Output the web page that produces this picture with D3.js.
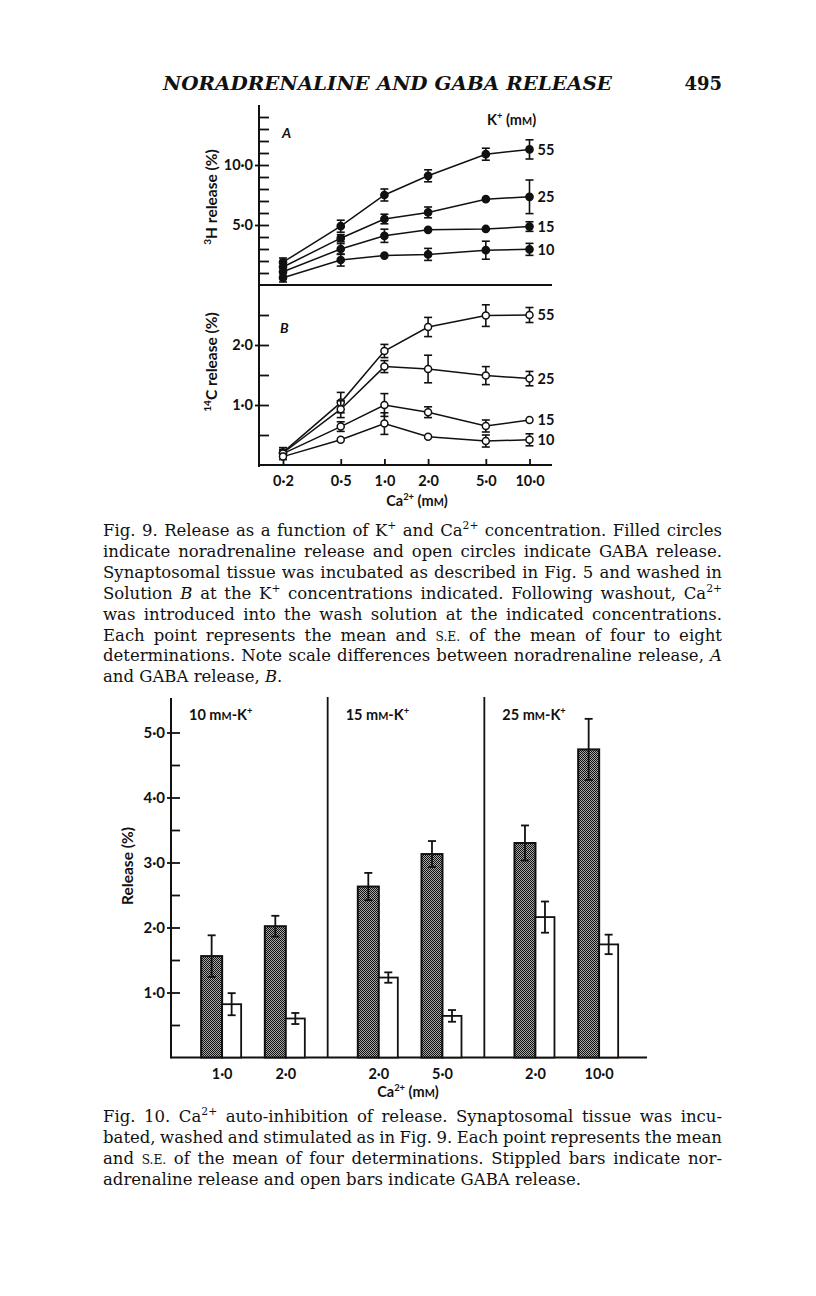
<!DOCTYPE html>
<html>
<head>
<meta charset="utf-8">
<script src="https://cdn.jsdelivr.net/npm/d3@7"></script>
<style>
  body { margin: 0; background: #fff; }
  svg { display: block; }
  .lab { font-family: Lato, "Open Sans", sans-serif; font-weight: 700; fill: #111; }
  .cap { font-family: "DejaVu Serif", serif; fill: #111; }
</style>
</head>
<body>
<div id="main"></div>
<script>
// ---- Fig. 9 data: release vs Ca2+ (mM), one series per K+ level ----
var caValues = [0.2, 0.5, 1.0, 2.0, 5.0, 10.0];
var kLevels = [55, 25, 15, 10];

// A: 3H (noradrenaline) release (%), filled circles
var na55 = [1.9, 4.9, 7.5, 9.1, 10.9, 11.3];
var na55Err = [0.35, 0.5, 0.5, 0.5, 0.5, 0.8];
var na25 = [1.5, 3.9, 5.5, 6.05, 7.15, 7.35];
var na25Err = [0.35, 0.3, 0.4, 0.45, 0, 1.4];
var na15 = [1.1, 3.0, 4.1, 4.6, 4.67, 4.87];
var na15Err = [0.35, 0.45, 0.55, 0, 0, 0.4];
var na10 = [0.6, 2.08, 2.45, 2.55, 2.9, 2.97];
var na10Err = [0.35, 0.5, 0, 0.5, 0.75, 0.5];

// B: 14C (GABA) release (%), open circles
var gaba55 = [0.21, 1.04, 1.9, 2.3, 2.49, 2.5];
var gaba55Err = [0.08, 0.17, 0.11, 0.16, 0.18, 0.125];
var gaba25 = [0.2, 0.93, 1.64, 1.6, 1.49, 1.44];
var gaba25Err = [0.06, 0.14, 0.1, 0.23, 0.15, 0.12];
var gaba15 = [0.19, 0.64, 1.0, 0.88, 0.65, 0.75];
var gaba15Err = [0.05, 0.08, 0.19, 0.09, 0.1, 0];
var gaba10 = [0.14, 0.42, 0.69, 0.47, 0.4, 0.42];
var gaba10Err = [0.05, 0, 0.18, 0, 0.1, 0.1];

// ---- Fig. 10 data: bars ----
var kGroups = ['10', '15', '25'];
var caBarLabels = ['1·0', '2·0', '2·0', '5·0', '2·0', '10·0'];
var naBar = [1.56, 2.02, 2.63, 3.13, 3.30, 4.74];
var naBarErr = [0.32, 0.16, 0.21, 0.20, 0.27, 0.47];
var gabaBar = [0.82, 0.60, 1.23, 0.64, 2.16, 1.74];
var gabaBarErr = [0.17, 0.085, 0.08, 0.09, 0.24, 0.15];

var cap9 = [
  "Fig. 9. Release as a function of K^{+} and Ca^{2+} concentration. Filled circles",
  "indicate noradrenaline release and open circles indicate GABA release.",
  "Synaptosomal tissue was incubated as described in Fig. 5 and washed in",
  "Solution _{B} at the K^{+} concentrations indicated. Following washout, Ca^{2+}",
  "was introduced into the wash solution at the indicated concentrations.",
  "Each point represents the mean and ~{S.E.} of the mean of four to eight",
  "determinations. Note scale differences between noradrenaline release, _{A}",
  "and GABA release, _{B}."
];
var cap10 = [
  "Fig. 10. Ca^{2+} auto-inhibition of release. Synaptosomal tissue was incu-",
  "bated, washed and stimulated as in Fig. 9. Each point represents the mean",
  "and ~{S.E.} of the mean of four determinations. Stippled bars indicate nor-",
  "adrenaline release and open bars indicate GABA release."
];

var W = 816, H = 1296;
var svg = d3.select('#main').append('svg').attr('width', W).attr('height', H);
svg.append('rect').attr('width', W).attr('height', H).attr('fill', '#fff');

var defs = svg.append('defs');
var pat = defs.append('pattern').attr('id', 'stip')
  .attr('patternUnits', 'userSpaceOnUse').attr('width', 2).attr('height', 2);
pat.append('rect').attr('width', 2).attr('height', 2).attr('fill', '#a8a8a8');
pat.append('rect').attr('width', 1).attr('height', 1).attr('fill', '#111');
pat.append('rect').attr('x', 1).attr('y', 1).attr('width', 1).attr('height', 1).attr('fill', '#111');

// tiny markup: ^{sup} _{italic} ~{small caps}
function rich(sel, str, fs) {
  var re = /([\^_~])\{([^}]*)\}/g, last = 0, m, shift = 0;
  function add(t, kind) {
    var ts = sel.append('tspan').text(t);
    if (kind === '^') {
      ts.attr('font-size', fs * 0.65).attr('dy', -fs * 0.4);
      shift = fs * 0.4;
    } else {
      if (shift) { ts.attr('dy', shift); shift = 0; }
      if (kind === '_') ts.attr('font-style', 'italic');
      if (kind === '~') ts.attr('font-size', fs * 0.74);
    }
  }
  while ((m = re.exec(str))) {
    if (m.index > last) add(str.slice(last, m.index), '');
    add(m[2], m[1]);
    last = re.lastIndex;
  }
  if (last < str.length) add(str.slice(last), '');
  return sel;
}

var fmt = function(d) { return d3.format('.1f')(d).replace('.', '·'); };

// ---- running head ----
svg.append('text').attr('class', 'cap')
  .attr('x', 163).attr('y', 90)
  .attr('font-size', 19).attr('font-style', 'italic').attr('font-weight', 'bold')
  .attr('textLength', 449).attr('lengthAdjust', 'spacingAndGlyphs')
  .text('NORADRENALINE AND GABA RELEASE');
svg.append('text').attr('class', 'cap')
  .attr('x', 722).attr('y', 90).attr('text-anchor', 'end')
  .attr('font-size', 18).attr('font-weight', 'bold')
  .text('495');

// ================= Fig. 9 =================
var x9 = d3.scaleLog().domain([0.2, 10]).range([283, 529.5]);
var yA = d3.scaleLinear().domain([0, 15]).range([285, 105]);
var yB = d3.scaleLinear().domain([0, 3]).range([465, 285]);
var frameL = 259, frameR = 552;

var f9 = svg.append('g');

function leftAxis(g, scale, values, isMajor, tickLen) {
  var ax = d3.axisLeft(scale).tickValues(values)
    .tickSizeInner(-tickLen).tickSizeOuter(0).tickPadding(5)
    .tickFormat(function(d) { return isMajor(d) ? fmt(d) : ''; });
  g.call(ax);
  g.select('.domain').remove();
  g.selectAll('.tick line').attr('stroke', '#111').attr('stroke-width', 1.8);
  g.selectAll('.tick').filter(isMajor).append('line')
    .attr('x1', -4).attr('x2', 0).attr('stroke', '#111').attr('stroke-width', 1.8);
  g.selectAll('.tick text').attr('class', 'lab').attr('font-size', 14.5)
    .attr('font-family', null).attr('x', -6);
}

var isInt = function(d) { return Math.abs(d - Math.round(d)) < 1e-6; };

leftAxis(f9.append('g').attr('transform', 'translate(' + frameL + ',0)'),
  yA, d3.range(1, 15), function(d) { return d % 5 === 0; }, 10);
leftAxis(f9.append('g').attr('transform', 'translate(' + frameL + ',0)'),
  yB, [0.5, 1, 1.5, 2, 2.5], isInt, 10);

var xg = f9.append('g').attr('transform', 'translate(0,' + yB(0) + ')');
xg.call(d3.axisBottom(x9).tickValues(caValues).tickSizeInner(-6).tickSizeOuter(0)
  .tickPadding(11).tickFormat(fmt));
xg.select('.domain').remove();
xg.selectAll('.tick line').attr('stroke', '#111').attr('stroke-width', 1.8);
xg.selectAll('.tick text').attr('class', 'lab').attr('font-size', 14.5).attr('font-family', null);

// frame lines
f9.append('line').attr('x1', frameL).attr('x2', frameL).attr('y1', yA(15)).attr('y2', yB(0) + 2)
  .attr('stroke', '#111').attr('stroke-width', 2);
f9.append('line').attr('x1', frameL).attr('x2', frameR).attr('y1', yA(0)).attr('y2', yA(0))
  .attr('stroke', '#111').attr('stroke-width', 2);
f9.append('line').attr('x1', frameL).attr('x2', frameR).attr('y1', yB(0)).attr('y2', yB(0))
  .attr('stroke', '#111').attr('stroke-width', 2);

function drawSeries(g, y, vals, errs, filled, label) {
  var pts = caValues.map(function(c, i) { return { c: c, v: vals[i], e: errs[i] }; });
  g.append('path').datum(pts)
    .attr('d', d3.line().x(function(d) { return x9(d.c); }).y(function(d) { return y(d.v); }))
    .attr('fill', 'none').attr('stroke', '#111').attr('stroke-width', 1.5);
  var eb = g.append('g').selectAll('g').data(pts.filter(function(d) { return d.e > 0; }))
    .enter().append('g').attr('stroke', '#111').attr('stroke-width', 1.6);
  eb.append('line').attr('x1', function(d) { return x9(d.c); }).attr('x2', function(d) { return x9(d.c); })
    .attr('y1', function(d) { return y(d.v - d.e); }).attr('y2', function(d) { return y(d.v + d.e); });
  [-1, 1].forEach(function(s) {
    eb.append('line').attr('x1', function(d) { return x9(d.c) - 4; }).attr('x2', function(d) { return x9(d.c) + 4; })
      .attr('y1', function(d) { return y(d.v + s * d.e); }).attr('y2', function(d) { return y(d.v + s * d.e); });
  });
  g.append('g').selectAll('circle').data(pts).enter().append('circle')
    .attr('cx', function(d) { return x9(d.c); }).attr('cy', function(d) { return y(d.v); })
    .attr('r', filled ? 3.6 : 3.5)
    .attr('fill', filled ? '#111' : '#fff').attr('stroke', '#111').attr('stroke-width', 1.5);
  var lastPt = pts[pts.length - 1];
  g.append('text').attr('class', 'lab').attr('font-size', 14.5)
    .attr('x', x9(lastPt.c) + 8).attr('y', y(lastPt.v)).attr('dy', '0.36em')
    .text(label);
}

var naSets = [[na55, na55Err], [na25, na25Err], [na15, na15Err], [na10, na10Err]];
var gabaSets = [[gaba55, gaba55Err], [gaba25, gaba25Err], [gaba15, gaba15Err], [gaba10, gaba10Err]];
kLevels.forEach(function(k, i) {
  drawSeries(f9.append('g'), yA, naSets[i][0], naSets[i][1], true, String(k));
  drawSeries(f9.append('g'), yB, gabaSets[i][0], gabaSets[i][1], false, String(k));
});

// labels
rich(f9.append('text').attr('class', 'lab').attr('font-size', 14.5).attr('x', 487).attr('y', 125),
  'K^{+} (m~{M})', 14.5);
f9.append('text').attr('class', 'lab').attr('font-size', 14).attr('font-style', 'italic')
  .attr('x', 282).attr('y', 138).text('A');
f9.append('text').attr('class', 'lab').attr('font-size', 14).attr('font-style', 'italic')
  .attr('x', 280).attr('y', 333).text('B');
rich(f9.append('text').attr('class', 'lab').attr('font-size', 15.5)
  .attr('transform', 'translate(217,197) rotate(-90)').attr('text-anchor', 'middle'),
  '^{3}H release (%)', 15.5);
rich(f9.append('text').attr('class', 'lab').attr('font-size', 15.5)
  .attr('transform', 'translate(217,362) rotate(-90)').attr('text-anchor', 'middle'),
  '^{14}C release (%)', 15.5);
rich(f9.append('text').attr('class', 'lab').attr('font-size', 14.5)
  .attr('x', 417).attr('y', 506).attr('text-anchor', 'middle'),
  'Ca^{2+} (m~{M})', 14.5);

// captions
function caption(lines, x0, width, y0, lh, fs) {
  lines.forEach(function(line, i) {
    var t = svg.append('text').attr('class', 'cap').attr('font-size', fs)
      .attr('x', x0).attr('y', y0 + i * lh);
    rich(t, line, fs);
    if (i < lines.length - 1) {
      var len = t.node().getComputedTextLength();
      var spaces = (line.match(/ /g) || []).length;
      t.style('word-spacing', ((width - len) / spaces) + 'px');
    }
  });
}
caption(cap9, 103, 619, 536, 20.9, 16.5);

// ================= Fig. 10 =================
var y10 = d3.scaleLinear().domain([0, 5.5]).range([1057.5, 700]);
var panelX = d3.scaleBand().domain(kGroups).range([171, 641]);
var slotX = d3.scalePoint().domain([0, 1]).range([0, panelX.bandwidth()]).padding(0.73).align(0.55);
var groupX = function(i) { return panelX(kGroups[Math.floor(i / 2)]) + slotX(i % 2); };
var naW = 21, gabaW = 19;

var f10 = svg.append('g');
leftAxis(f10.append('g').attr('transform', 'translate(171,0)'),
  y10, d3.range(1, 11).map(function(d) { return d / 2; }), isInt, 9);
f10.selectAll('.tick text').attr('font-size', 15);

f10.append('line').attr('x1', 171).attr('x2', 171).attr('y1', y10(5.5) - 2).attr('y2', y10(0) + 1)
  .attr('stroke', '#111').attr('stroke-width', 2);
f10.append('line').attr('x1', 171).attr('x2', 647).attr('y1', y10(0)).attr('y2', y10(0))
  .attr('stroke', '#111').attr('stroke-width', 2);
f10.selectAll('.divider').data(kGroups.slice(1)).enter().append('line')
  .attr('x1', function(d) { return panelX(d); }).attr('x2', function(d) { return panelX(d); })
  .attr('y1', y10(5.5) - 3).attr('y2', y10(0))
  .attr('stroke', '#111').attr('stroke-width', 1.8);

var idx = d3.range(naBar.length);
f10.append('g').selectAll('rect').data(idx).enter().append('rect')
  .attr('x', function(i) { return groupX(i) - naW; }).attr('width', naW)
  .attr('y', function(i) { return y10(naBar[i]); })
  .attr('height', function(i) { return y10(0) - y10(naBar[i]); })
  .attr('fill', 'url(#stip)').attr('stroke', '#111').attr('stroke-width', 2);
f10.append('g').selectAll('rect').data(idx).enter().append('rect')
  .attr('x', function(i) { return groupX(i); }).attr('width', gabaW)
  .attr('y', function(i) { return y10(gabaBar[i]); })
  .attr('height', function(i) { return y10(0) - y10(gabaBar[i]); })
  .attr('fill', '#fff').attr('stroke', '#111').attr('stroke-width', 1.8);

function barErr(vals, errs, off) {
  var g = f10.append('g').attr('stroke', '#111').attr('stroke-width', 1.8);
  var e = g.selectAll('g').data(idx).enter().append('g');
  var cx = function(i) { return groupX(i) + off; };
  e.append('line').attr('x1', cx).attr('x2', cx)
    .attr('y1', function(i) { return y10(vals[i] - errs[i]); })
    .attr('y2', function(i) { return y10(vals[i] + errs[i]); });
  [-1, 1].forEach(function(s) {
    e.append('line').attr('x1', function(i) { return cx(i) - 4; }).attr('x2', function(i) { return cx(i) + 4; })
      .attr('y1', function(i) { return y10(vals[i] + s * errs[i]); })
      .attr('y2', function(i) { return y10(vals[i] + s * errs[i]); });
  });
}
barErr(naBar, naBarErr, -naW / 2);
barErr(gabaBar, gabaBarErr, gabaW / 2);

f10.append('g').selectAll('text').data(idx).enter().append('text')
  .attr('class', 'lab').attr('font-size', 14.5).attr('text-anchor', 'middle')
  .attr('x', function(i) { return groupX(i); }).attr('y', 1079)
  .text(function(i) { return caBarLabels[i]; });
rich(f10.append('text').attr('class', 'lab').attr('font-size', 14.5)
  .attr('x', 408).attr('y', 1097).attr('text-anchor', 'middle'),
  'Ca^{2+} (m~{M})', 14.5);
kGroups.forEach(function(k) {
  rich(f10.append('text').attr('class', 'lab').attr('font-size', 14.5)
    .attr('x', panelX(k) + 18).attr('y', 720),
    k + ' m~{M}-K^{+}', 14.5);
});
rich(f10.append('text').attr('class', 'lab').attr('font-size', 15.5)
  .attr('transform', 'translate(133,866) rotate(-90)').attr('text-anchor', 'middle'),
  'Release (%)', 15.5);

caption(cap10, 103, 619, 1122, 20.9, 16.5);
</script>
</body>
</html>
